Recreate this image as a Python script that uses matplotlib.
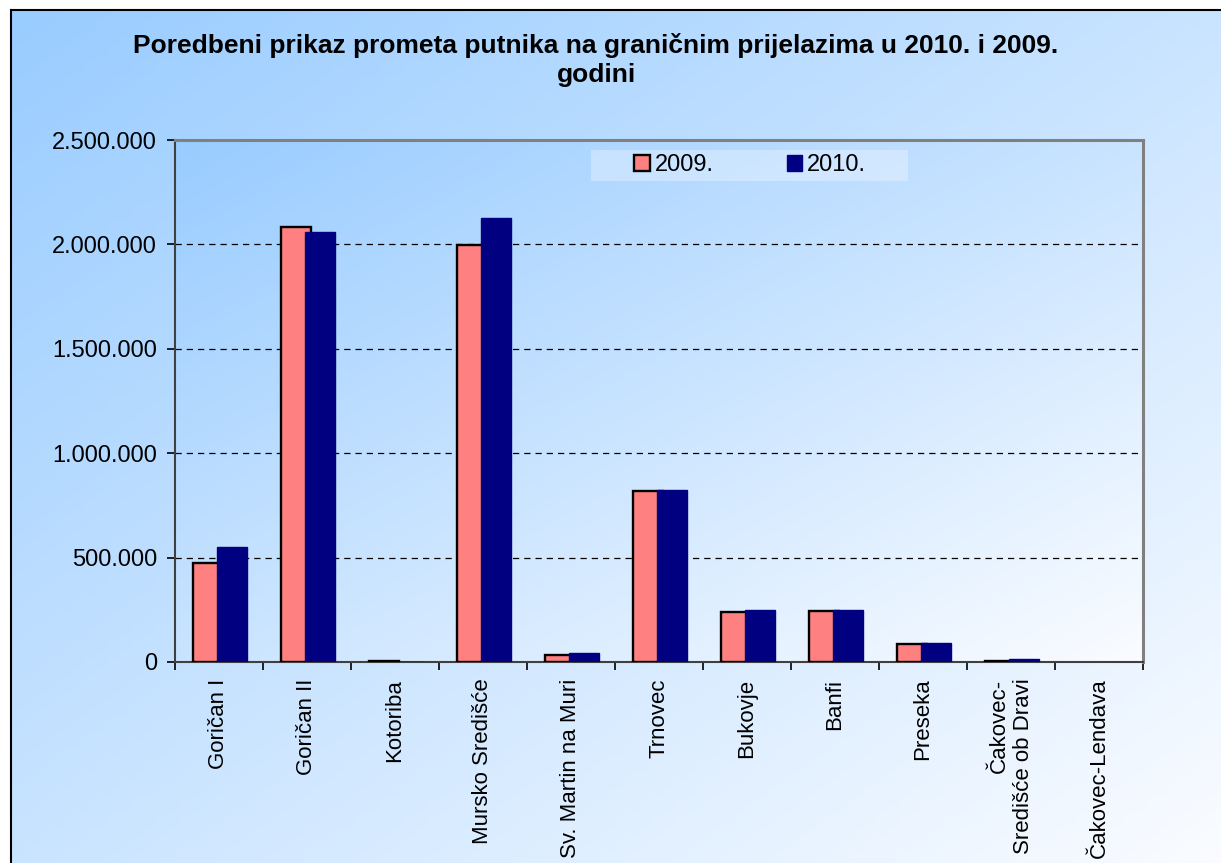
import numpy as np
import matplotlib
matplotlib.use("Agg")
import matplotlib.pyplot as plt
from matplotlib.patches import Rectangle
from matplotlib.ticker import FuncFormatter, FixedLocator

plt.rcParams['font.family'] = ['Liberation Sans', 'DejaVu Sans']

# data
crossings = ['Goričan I', 'Goričan II', 'Kotoriba', 'Mursko Središće',
             'Sv. Martin na Muri', 'Trnovec', 'Bukovje', 'Banfi', 'Preseka',
             'Čakovec-\nSredišće ob Dravi', 'Čakovec-Lendava']
y2009 = [473000, 2084000, 2500, 1998000, 32000, 817000, 238000, 245000, 85000, 5000, 0]
y2010 = [550000, 2060000, 300, 2127000, 44000, 822000, 247000, 247000, 89000, 14000, 0]
series_names = ['2009.', '2010.']
title = 'Poredbeni prikaz prometa putnika na graničnim prijelazima u 2010. i 2009.\ngodini'

W, H = 1221, 863
c_light_blue = np.array([153, 204, 255]) / 255
c_white = np.array([250, 252, 255]) / 255


def gradient(nx=200, ny=150):
    xx, yy = np.meshgrid(np.linspace(0, 1, nx), np.linspace(0, 1, ny))
    t = (xx + yy) / 2
    return c_light_blue[None, None, :] + t[..., None] * (c_white - c_light_blue)[None, None, :]


fig = plt.figure(figsize=(W / 100, H / 100), dpi=100, facecolor='white')

# chart area background with frame
bg = fig.add_axes([11 / W, 0, 1 - 11 / W, 1 - 10 / H])
bg.imshow(gradient(), extent=[0, 1, 0, 1], aspect='auto', origin='upper')
bg.set_xlim(0, 1)
bg.set_ylim(0, 1)
bg.set_xticks([])
bg.set_yticks([])
for s in ['right', 'bottom']:
    bg.spines[s].set_visible(False)
for s in ['top', 'left']:
    bg.spines[s].set_color('black')
    bg.spines[s].set_linewidth(1.5)
bg.set_zorder(0)

fig.text(596 / W, 1 - 33 / H, title, ha='center', va='top', fontsize=19,
         fontweight='bold', linespacing=1.25)

ax = fig.add_axes([175 / W, 1 - 662 / H, (1143 - 175) / W, (662 - 140) / H])
ax.set_zorder(1)
ax.set_facecolor('none')
ax.imshow(gradient(), extent=[0, 1, 0, 1], transform=ax.transAxes,
          aspect='auto', origin='upper', zorder=0)

x = np.arange(len(crossings))
bw = 0.34
ax.bar(x - 0.12, y2009, bw, color='#FF8080', edgecolor='black',
       linewidth=[1.7 if v > 0 else 0 for v in y2009],
       zorder=3, label=series_names[0])
ax.bar(x + 0.15, y2010, bw, color='#000080', edgecolor='#000080',
       linewidth=[1.0 if v > 0 else 0 for v in y2010],
       zorder=4, label=series_names[1])

ax.set_xlim(-0.5, len(crossings) - 0.5)
ax.set_ylim(0, 2500000)
ax.set_yticks(np.arange(0, 2500001, 500000))
ax.yaxis.set_major_formatter(FuncFormatter(lambda v, p: f"{int(v):,}".replace(',', '.')))
ax.tick_params(axis='y', labelsize=17, length=6, width=1.2, pad=7, direction='out')

ax.xaxis.set_major_locator(FixedLocator(np.arange(-0.5, len(crossings), 1.0)))
ax.xaxis.set_minor_locator(FixedLocator(x))
ax.set_xticklabels([], minor=False)
ax.set_xticklabels(crossings, minor=True, rotation=90, fontsize=16,
                   va='top', ha='center', multialignment='right')
ax.tick_params(axis='x', which='major', length=6, width=1.2, direction='out')
ax.tick_params(axis='x', which='minor', length=0, pad=12)

ax.grid(axis='y', color='black', linestyle=(0, (5, 4)), linewidth=0.9, zorder=1)
ax.set_axisbelow(True)

for s in ['left', 'bottom']:
    ax.spines[s].set_color('#404040')
    ax.spines[s].set_linewidth(1.5)
for s in ['top', 'right']:
    ax.spines[s].set_color('#808080')
    ax.spines[s].set_linewidth(2.2)

# legend box
ax.add_patch(Rectangle((0.430, 0.921), 0.327, 0.060, transform=ax.transAxes,
                       facecolor='white', alpha=0.3, edgecolor='none', zorder=5))
leg = ax.legend(loc='center', bbox_to_anchor=(0.594, 0.952), ncol=2, frameon=False,
                fontsize=17, handlelength=0.67, handleheight=0.67, handletextpad=0.2,
                columnspacing=3.1, borderpad=0.1)
leg.set_zorder(6)

fig.savefig('out.png', dpi=100, facecolor='white')
